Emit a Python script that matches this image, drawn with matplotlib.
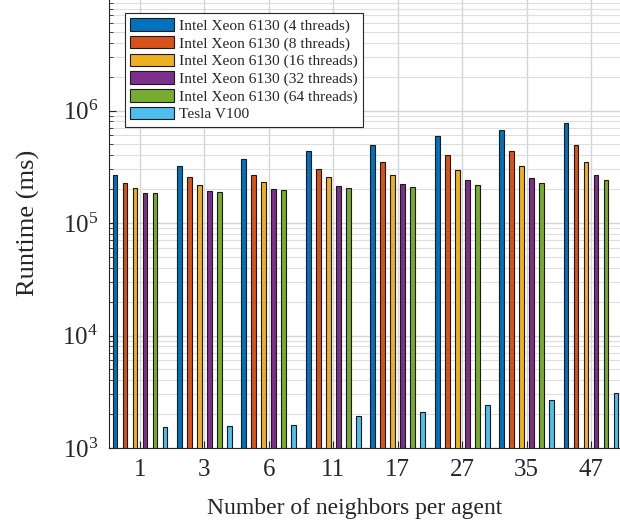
import numpy as np
import matplotlib
matplotlib.use("Agg")
import matplotlib.pyplot as plt

# dati (runtime in ms)
vicini = ["1", "3", "6", "11", "17", "27", "35", "47"]
serie = ["Intel Xeon 6130 (4 threads)", "Intel Xeon 6130 (8 threads)",
         "Intel Xeon 6130 (16 threads)", "Intel Xeon 6130 (32 threads)",
         "Intel Xeon 6130 (64 threads)", "Tesla V100"]
xeon_4 = [2.66e5, 3.22e5, 3.67e5, 4.41e5, 4.92e5, 5.92e5, 6.65e5, 7.78e5]
xeon_8 = [2.28e5, 2.54e5, 2.68e5, 3.05e5, 3.47e5, 4.01e5, 4.35e5, 4.89e5]
xeon_16 = [2.05e5, 2.18e5, 2.32e5, 2.55e5, 2.68e5, 2.97e5, 3.20e5, 3.47e5]
xeon_32 = [1.85e5, 1.94e5, 2.01e5, 2.12e5, 2.23e5, 2.39e5, 2.50e5, 2.68e5]
xeon_64 = [1.85e5, 1.90e5, 1.98e5, 2.05e5, 2.08e5, 2.18e5, 2.28e5, 2.39e5]
tesla = [1.53e3, 1.57e3, 1.61e3, 1.94e3, 2.08e3, 2.42e3, 2.66e3, 3.11e3]

COLORI = ["#0072BD", "#D95319", "#EDB120", "#7E2F8E", "#77AC30", "#4DBEEE"]
GRIGIO = "#262626"

plt.rcParams["font.family"] = ["Liberation Serif", "DejaVu Serif"]
plt.rcParams["mathtext.fontset"] = "stix"

fig = plt.figure(figsize=(6.2, 5.25), dpi=100)
ax = fig.add_axes([109 / 620, 77 / 525, 513 / 620, 450 / 525])

x = np.arange(1, len(vicini) + 1)
passo, larg = 0.155, 0.076
valori = [xeon_4, xeon_8, xeon_16, xeon_32, xeon_64, tesla]
for i, (nome, v) in enumerate(zip(serie, valori)):
    ax.bar(x + (i - 2.5) * passo, v, width=larg,
           color=COLORI[i], edgecolor="#1a1a1a", linewidth=0.8, label=nome, zorder=3)

ax.set_yscale("log")
ax.set_ylim(1e3, 1e7)
ax.set_yticks([1e3, 1e4, 1e5, 1e6])
ax.set_xlim(0.519, 8.481)
ax.set_xticks(x)
ax.set_xticklabels(vicini)

ax.set_axisbelow(True)
ax.grid(True, which="major", color="#d4d4d4", linewidth=1.0)
ax.grid(True, which="minor", axis="y", color="#dedede", linewidth=0.8)
ax.tick_params(which="both", direction="in", colors=GRIGIO, labelsize=18)
ax.tick_params(which="major", length=5)
ax.tick_params(which="minor", length=3)
ax.tick_params(axis="x", pad=8)
ax.tick_params(axis="y", pad=8)
for s in ax.spines.values():
    s.set_color(GRIGIO)
    s.set_linewidth(0.8)

ax.set_xlabel("Number of neighbors per agent", fontsize=17, color=GRIGIO, labelpad=11)
ax.xaxis.set_label_coords(0.478, -0.112)
ax.set_ylabel("Runtime (ms)", fontsize=19, color=GRIGIO, labelpad=16)

leg = ax.legend(loc="upper left", bbox_to_anchor=(0.031, 0.967), fontsize=11.1,
                frameon=True, fancybox=False, edgecolor="#262626", framealpha=1,
                handlelength=2.85, handleheight=0.85, handletextpad=0.3,
                labelspacing=0.2, borderpad=0.35, borderaxespad=0)
leg.get_frame().set_linewidth(0.8)
for t in leg.get_texts():
    t.set_color(GRIGIO)

fig.savefig("out.png", dpi=100)
